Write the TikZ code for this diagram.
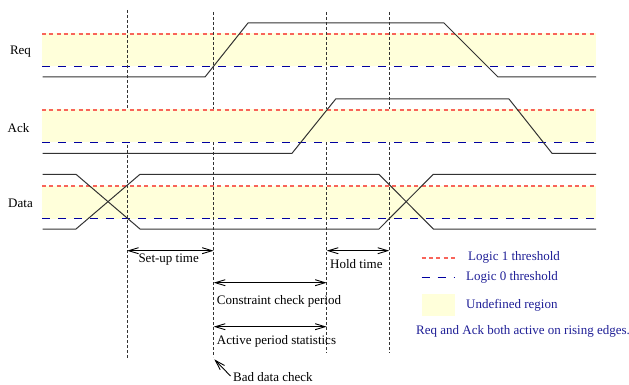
\documentclass[tikz,border=0pt]{standalone}
\usepackage{fontspec}
\setmainfont{Liberation Serif}
\usetikzlibrary{arrows.meta}
\definecolor{undef}{RGB}{255,255,218}
\definecolor{logicred}{RGB}{248,100,90}
\definecolor{logicblue}{RGB}{0,0,160}
\definecolor{legtext}{RGB}{30,30,150}
\begin{document}
\begin{tikzpicture}[x=1pt,y=-1pt,
  font=\fontsize{13}{15}\selectfont,
  band/.style={fill=undef, draw=none},
  hiline/.style={draw=logicred, line width=2pt, dash pattern=on 4pt off 3.3pt},
  loline/.style={draw=logicblue, line width=1.3pt, dash pattern=on 8pt off 8pt},
  wave/.style={draw=black!80, line width=1pt, line join=miter},
  guide/.style={draw=black!80, line width=0.8pt, dash pattern=on 3pt off 2pt},
  span/.style={{Straight Barb[length=10pt,width=6pt]}-{Straight Barb[length=10pt,width=6pt]}, line width=0.9pt},
  pointer/.style={-{Straight Barb[length=10pt,width=6pt]}, line width=0.9pt},
  lbl/.style={anchor=west, inner sep=0pt},
  sig/.style={inner sep=0pt},
  legend/.style={anchor=west, inner sep=0pt, text=legtext}]
\useasboundingbox (0,0) rectangle (629,385);

% Req band
\fill[band] (42,33.5) rectangle (596,66.5);
\draw[hiline] (42,34) -- (596,34);
\draw[loline] (42,66.5) -- (596,66.5);
% Data band
\fill[band] (42,185.5) rectangle (596,218.5);
\draw[hiline] (42,186) -- (596,186);
\draw[loline] (42,218.5) -- (596,218.5);

% guide lines
\coordinate (g1t) at (127,10);   \coordinate (g1b) at (127,358);
\coordinate (g2t) at (213.7,12); \coordinate (g2b) at (213.7,357);
\coordinate (g3t) at (326.7,12); \coordinate (g3b) at (326.7,353);
\coordinate (g4t) at (389.3,12); \coordinate (g4b) at (389.3,353);
\draw[guide] (g1t) -- (g1b);
\draw[guide] (g2t) -- (g2b);
\draw[guide] (g3t) -- (g3b);
\draw[guide] (g4t) -- (g4b);

% Ack band (over guides)
\fill[band] (42,109.5) rectangle (596,142.5);
\draw[hiline] (42,110) -- (596,110);
\draw[loline] (42,142.5) -- (596,142.5);

% waveforms
\draw[wave] (42.7,77) -- (205,77) -- (248,23) -- (444,23) -- (498,77) -- (596,77);
\draw[wave] (42.7,153.3) -- (292,153.3) -- (335.7,99) -- (509,99) -- (552,153.3) -- (596,153.3);
\draw[wave] (42.7,174.3) -- (76,174.3) -- (140,229) -- (379,229) -- (433.3,174.3) -- (596,174.3);
\draw[wave] (42.7,229) -- (76,229) -- (140,174.3) -- (379,174.3) -- (433.3,229) -- (596,229);

% signal labels
\node[sig] (req) at (20.5,52) {Req};
\node[sig] (ack) at (18.5,128) {Ack};
\node[sig] (data) at (20.5,203.5) {Data};

% spans
\coordinate (s1) at (127,250.7);   \coordinate (s2) at (213.7,250.7);
\coordinate (h1) at (326.7,250.7); \coordinate (h2) at (389.3,250.7);
\coordinate (c1) at (213.7,282.7); \coordinate (c2) at (326.7,282.7);
\coordinate (a1) at (213.7,326.7); \coordinate (a2) at (326.7,326.7);
\draw[span] (s1) -- (s2);
\draw[span] (h1) -- (h2);
\draw[span] (c1) -- (c2);
\draw[span] (a1) -- (a2);

\node[lbl] (setup) at (138.3,260) {Set-up time};
\node[lbl] (hold) at (330,264) {Hold time};
\node[lbl] (cons) at (216.7,301) {Constraint check period};
\node[lbl] (act) at (216.7,341.7) {Active period statistics};
\node[lbl] (bad) at (233,376.7) {Bad data check};
\coordinate (badtail) at (230.5,376);
\coordinate (badtip) at (214.3,359.3);
\draw[pointer] (badtail) -- (badtip);

% legend
\coordinate (l1a) at (421.7,258); \coordinate (l1b) at (455,258);
\coordinate (l0a) at (421.7,277.5); \coordinate (l0b) at (455,277.5);
\draw[hiline] (l1a) -- (l1b);
\draw[loline] (l0a) -- (l0b);
\fill[band] (422,294.3) rectangle (455,315.7);
\node[legend] (leg1) at (468,257.3) {Logic 1 threshold};
\node[legend] (leg0) at (466,277.7) {Logic 0 threshold};
\node[legend] (legu) at (466,305) {Undefined region};
\node[legend] (note) at (416,331.7) {Req and Ack both active on rising edges.};
\end{tikzpicture}
\end{document}
